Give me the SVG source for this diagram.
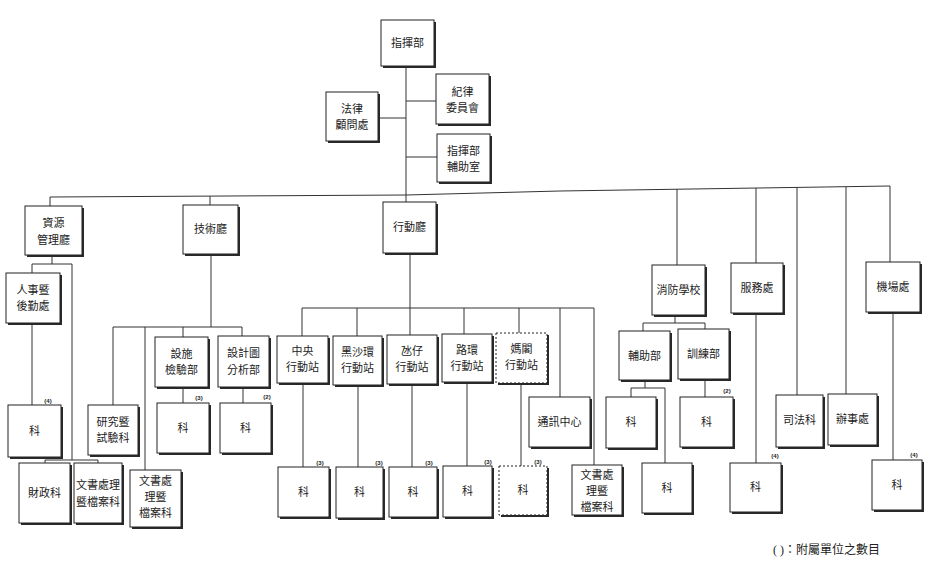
<svg xmlns="http://www.w3.org/2000/svg" width="935" height="563" viewBox="0 0 935 563">
<style>
.bg{fill:#fff}
.c{fill:none;stroke:#333;stroke-width:1}
.sh{fill:#2a2a2a}
.b{fill:#fff;stroke:#222;stroke-width:1}
.d{fill:#fff;stroke:#222;stroke-width:1;stroke-dasharray:2 2}
text{font-family:"Liberation Serif","Noto Sans CJK TC",serif;font-size:11px;fill:#222;text-anchor:middle}
.n{font-family:"Liberation Sans",sans-serif;font-size:6px;font-weight:bold}
.lg{font-size:12px;text-anchor:start}
</style>
<rect class="bg" x="0" y="0" width="935" height="563"/>
<g id="connectors">
<path class="c" d="M406,66V195 M406,101H436 M378,118H406 M406,157H437"/>
<polyline class="c" points="50,197 406,195 560,191 890,186"/>
<path class="c" d="M50,197V206 M210,196V205 M406,195V202 M677,189V265 M756,188V263 M797,187V395 M846,187V394 M890,186V262"/>
<path class="c" d="M52,255V264 M32,264H72 M32,264V273 M72,264V460 M32,323V405 M45,460H98 M45,460V463 M98,460V463"/>
<path class="c" d="M211,254V327 M113,327H242 M113,327V405 M145,327V470 M183,327V337 M242,327V336 M183,387V403 M243,387V403"/>
<path class="c" d="M410,253V308 M302,308H594 M302,308V336 M357,308V336 M410,308V335 M464,308V334 M519,308V333 M560,308V397 M594,308V465"/>
<path class="c" d="M303,383V467 M358,385V467 M412,384V467 M467,382V466 M521,383V466"/>
<path class="c" d="M675,315V323 M643,323H705 M643,323V331 M705,323V329 M645,380V388 M631,388H665 M631,388V397 M665,388V463 M705,379V397"/>
<path class="c" d="M756,313V463 M893,312V460"/>
</g>
<g id="n_cmd"><rect class="sh" x="383" y="22" width="53" height="46"/><rect class="b" x="381" y="20" width="53" height="46"/><text x="407.5" y="47">指揮部</text></g>
<g id="n_discipline"><rect class="sh" x="438" y="76" width="53" height="50"/><rect class="b" x="436" y="74" width="53" height="50"/><text x="462.5" y="96">紀律</text><text x="462.5" y="112">委員會</text></g>
<g id="n_legal"><rect class="sh" x="328" y="94" width="52" height="49"/><rect class="b" x="326" y="92" width="52" height="49"/><text x="352" y="113">法律</text><text x="352" y="129">顧問處</text></g>
<g id="n_office"><rect class="sh" x="439" y="136" width="53" height="48"/><rect class="b" x="437" y="134" width="53" height="48"/><text x="463.5" y="155">指揮部</text><text x="463.5" y="171">輔助室</text></g>
<g id="n_resource"><rect class="sh" x="27" y="208" width="57" height="49"/><rect class="b" x="25" y="206" width="57" height="49"/><text x="53.5" y="227">資源</text><text x="53.5" y="244">管理廳</text></g>
<g id="n_tech"><rect class="sh" x="185" y="207" width="55" height="49"/><rect class="b" x="183" y="205" width="55" height="49"/><text x="210.5" y="233">技術廳</text></g>
<g id="n_ops"><rect class="sh" x="385" y="204" width="53" height="51"/><rect class="b" x="383" y="202" width="53" height="51"/><text x="409.5" y="231">行動廳</text></g>
<g id="n_school"><rect class="sh" x="654" y="267" width="53" height="50"/><rect class="b" x="652" y="265" width="53" height="50"/><text x="678.5" y="294">消防學校</text></g>
<g id="n_service"><rect class="sh" x="733" y="265" width="52" height="50"/><rect class="b" x="731" y="263" width="52" height="50"/><text x="757" y="292">服務處</text></g>
<g id="n_judicial"><rect class="sh" x="778" y="397" width="47" height="52"/><rect class="b" x="776" y="395" width="47" height="52"/><text x="799.5" y="424">司法科</text></g>
<g id="n_bureau"><rect class="sh" x="830" y="396" width="49" height="51"/><rect class="b" x="828" y="394" width="49" height="51"/><text x="852.5" y="423">辦事處</text></g>
<g id="n_airport"><rect class="sh" x="868" y="264" width="54" height="50"/><rect class="b" x="866" y="262" width="54" height="50"/><text x="893" y="291">機場處</text></g>
<g id="n_hr"><rect class="sh" x="8" y="275" width="54" height="50"/><rect class="b" x="6" y="273" width="54" height="50"/><text x="33" y="294">人事暨</text><text x="33" y="310">後勤處</text></g>
<g id="n_hr_sec"><rect class="sh" x="10" y="407" width="53" height="52"/><rect class="b" x="8" y="405" width="53" height="52"/><text x="34.5" y="435">科</text><text class="n" x="48" y="403">(4)</text></g>
<g id="n_finance"><rect class="sh" x="21" y="465" width="51" height="60"/><rect class="b" x="19" y="463" width="51" height="60"/><text x="44.5" y="497">財政科</text></g>
<g id="n_archive1"><rect class="sh" x="76" y="465" width="48" height="60"/><rect class="b" x="74" y="463" width="48" height="60"/><text x="98" y="489">文書處理</text><text x="98" y="506">暨檔案科</text></g>
<g id="n_research"><rect class="sh" x="90" y="407" width="50" height="50"/><rect class="b" x="88" y="405" width="50" height="50"/><text x="113" y="426">研究暨</text><text x="113" y="442">試驗科</text></g>
<g id="n_archive2"><rect class="sh" x="132" y="472" width="51" height="57"/><rect class="b" x="130" y="470" width="51" height="57"/><text x="155.5" y="485">文書處</text><text x="155.5" y="501">理暨</text><text x="155.5" y="517">檔案科</text></g>
<g id="n_facility"><rect class="sh" x="157" y="339" width="53" height="50"/><rect class="b" x="155" y="337" width="53" height="50"/><text x="181.5" y="358">設施</text><text x="181.5" y="374">檢驗部</text></g>
<g id="n_design"><rect class="sh" x="220" y="338" width="51" height="51"/><rect class="b" x="218" y="336" width="51" height="51"/><text x="243.5" y="357">設計圖</text><text x="243.5" y="374">分析部</text></g>
<g id="n_fac_sec"><rect class="sh" x="159" y="405" width="52" height="50"/><rect class="b" x="157" y="403" width="52" height="50"/><text x="183" y="432">科</text><text class="n" x="199" y="400">(3)</text></g>
<g id="n_des_sec"><rect class="sh" x="222" y="405" width="51" height="50"/><rect class="b" x="220" y="403" width="51" height="50"/><text x="245.5" y="432">科</text><text class="n" x="267" y="399">(2)</text></g>
<g id="n_central"><rect class="sh" x="279" y="338" width="51" height="47"/><rect class="b" x="277" y="336" width="51" height="47"/><text x="302.5" y="355">中央</text><text x="302.5" y="371">行動站</text></g>
<g id="n_hsh"><rect class="sh" x="335" y="338" width="49" height="49"/><rect class="b" x="333" y="336" width="49" height="49"/><text x="357.5" y="356">黑沙環</text><text x="357.5" y="372">行動站</text></g>
<g id="n_taipa"><rect class="sh" x="389" y="337" width="50" height="49"/><rect class="b" x="387" y="335" width="50" height="49"/><text x="412" y="355">氹仔</text><text x="412" y="371">行動站</text></g>
<g id="n_coloane"><rect class="sh" x="444" y="336" width="50" height="48"/><rect class="b" x="442" y="334" width="50" height="48"/><text x="467" y="354">路環</text><text x="467" y="370">行動站</text></g>
<g id="n_barra"><rect class="sh" x="498" y="335" width="51" height="50"/><rect class="d" x="496" y="333" width="51" height="50"/><text x="521.5" y="353">媽閣</text><text x="521.5" y="369">行動站</text></g>
<g id="n_comm"><rect class="sh" x="531" y="399" width="61" height="50"/><rect class="b" x="529" y="397" width="61" height="50"/><text x="559.5" y="426">通訊中心</text></g>
<g id="n_archive3"><rect class="sh" x="574" y="467" width="50" height="50"/><rect class="b" x="572" y="465" width="50" height="50"/><text x="597" y="479">文書處</text><text x="597" y="495">理暨</text><text x="597" y="511">檔案科</text></g>
<g id="n_central_sec"><rect class="sh" x="280" y="469" width="51" height="50"/><rect class="b" x="278" y="467" width="51" height="50"/><text x="303.5" y="496">科</text><text class="n" x="320" y="465">(3)</text></g>
<g id="n_hsh_sec"><rect class="sh" x="338" y="469" width="47" height="51"/><rect class="b" x="336" y="467" width="47" height="51"/><text x="359.5" y="496">科</text><text class="n" x="379" y="465">(3)</text></g>
<g id="n_taipa_sec"><rect class="sh" x="391" y="469" width="48" height="50"/><rect class="b" x="389" y="467" width="48" height="50"/><text x="413" y="496">科</text><text class="n" x="429" y="465">(3)</text></g>
<g id="n_coloane_sec"><rect class="sh" x="445" y="468" width="49" height="51"/><rect class="b" x="443" y="466" width="49" height="51"/><text x="467.5" y="495">科</text><text class="n" x="488" y="464">(3)</text></g>
<g id="n_barra_sec"><rect class="sh" x="501" y="468" width="48" height="49"/><rect class="d" x="499" y="466" width="48" height="49"/><text x="523" y="494">科</text><text class="n" x="538" y="464">(3)</text></g>
<g id="n_aux"><rect class="sh" x="621" y="333" width="51" height="49"/><rect class="b" x="619" y="331" width="51" height="49"/><text x="644.5" y="360">輔助部</text></g>
<g id="n_train"><rect class="sh" x="680" y="331" width="51" height="50"/><rect class="b" x="678" y="329" width="51" height="50"/><text x="703.5" y="358">訓練部</text></g>
<g id="n_aux_sec1"><rect class="sh" x="608" y="399" width="50" height="51"/><rect class="b" x="606" y="397" width="50" height="51"/><text x="631" y="426">科</text></g>
<g id="n_aux_sec2"><rect class="sh" x="644" y="465" width="50" height="50"/><rect class="b" x="642" y="463" width="50" height="50"/><text x="667" y="492">科</text></g>
<g id="n_train_sec"><rect class="sh" x="682" y="399" width="53" height="50"/><rect class="b" x="680" y="397" width="53" height="50"/><text x="706.5" y="426">科</text><text class="n" x="727" y="393">(2)</text></g>
<g id="n_service_sec"><rect class="sh" x="732" y="465" width="51" height="49"/><rect class="b" x="730" y="463" width="51" height="49"/><text x="755.5" y="491">科</text><text class="n" x="775" y="458">(4)</text></g>
<g id="n_airport_sec"><rect class="sh" x="874" y="462" width="50" height="50"/><rect class="b" x="872" y="460" width="50" height="50"/><text x="897" y="489">科</text><text class="n" x="914" y="457">(4)</text></g>
<g id="legend"><text class="lg" x="773" y="554">( )：附屬單位之數目</text></g>
</svg>
